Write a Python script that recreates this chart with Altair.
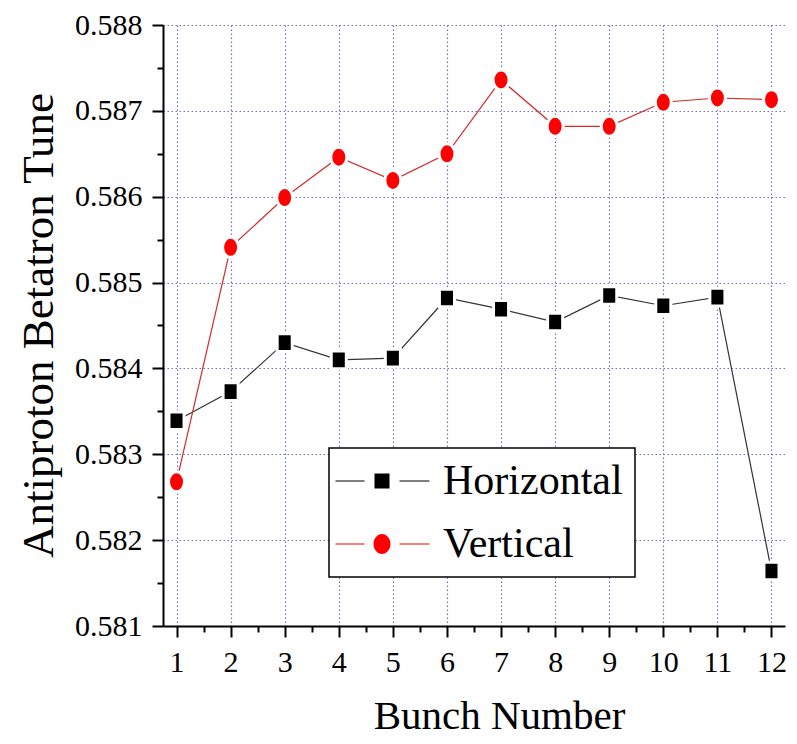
import altair as alt
import pandas as pd

bunch = [1, 2, 3, 4, 5, 6, 7, 8, 9, 10, 11, 12]
horizontal = [0.58339, 0.58373, 0.58430, 0.58410, 0.58412, 0.58482,
              0.58469, 0.58454, 0.58485, 0.58473, 0.58483, 0.58164]
vertical = [0.58268, 0.58541, 0.58599, 0.58646, 0.58619, 0.58650,
            0.58736, 0.58682, 0.58682, 0.58710, 0.58715, 0.58713]
series_names = ["Horizontal", "Vertical"]

x_ticks = [1, 1.5, 2, 2.5, 3, 3.5, 4, 4.5, 5, 5.5, 6, 6.5, 7, 7.5, 8, 8.5,
           9, 9.5, 10, 10.5, 11, 11.5, 12]
y_ticks = [0.581, 0.5815, 0.582, 0.5825, 0.583, 0.5835, 0.584, 0.5845,
           0.585, 0.5855, 0.586, 0.5865, 0.587, 0.5875, 0.588]

rows = []
for b, h, v in zip(bunch, horizontal, vertical):
    rows.append({"bunch": b, "tune": h, "series": "Horizontal"})
    rows.append({"bunch": b, "tune": v, "series": "Vertical"})
df = pd.DataFrame(rows)

FONT = "Liberation Serif"
GRID = "#6f6fbf"

x_major = "datum.value % 1 === 0"
y_major = "abs(datum.value*1000 - round(datum.value*1000)) < 0.01"

x_axis = alt.Axis(
    values=x_ticks,
    labelExpr=f"{x_major} ? format(datum.value, 'd') : ''",
    tickSize={"condition": {"test": x_major, "value": 11}, "value": 6},
    gridOpacity={"condition": {"test": x_major, "value": 1}, "value": 0},
    title="Bunch Number",
    titleX=336, titleY=102, titleAlign="center", titleBaseline="alphabetic",
    titleFontSize=41,
)
y_axis = alt.Axis(
    values=y_ticks,
    labelExpr=f"{y_major} ? format(datum.value, '.3f') : ''",
    tickSize={"condition": {"test": y_major, "value": 11}, "value": 6},
    gridOpacity={"condition": {"test": y_major, "value": 1}, "value": 0},
    title="Antiproton Betatron Tune",
    titleX=-111, titleY=300, titleAlign="center", titleBaseline="alphabetic",
    titleAngle=-90, titleFontSize=45,
)

x_enc = alt.X("bunch:Q", scale=alt.Scale(domain=[0.75, 12.25], nice=False, zero=False), axis=x_axis)
y_enc = alt.Y("tune:Q", scale=alt.Scale(domain=[0.581, 0.588], nice=False, zero=False), axis=y_axis)

base = alt.Chart(df)

lines = base.mark_line(strokeWidth=1.2).encode(
    x=x_enc, y=y_enc,
    color=alt.Color("series:N", scale=alt.Scale(domain=series_names, range=["#333333", "#d42a2a"]), legend=None),
)

marker_paths = [
    "M-0.94,-1.1H0.94V1.1H-0.94Z",
    "M-1,0A1,1.25 0 1,0 1,0A1,1.25 0 1,0 -1,0Z",
]
points = base.mark_point(filled=True, size=256, opacity=1, stroke="white", strokeWidth=3, strokeOpacity=1).encode(
    x=x_enc, y=y_enc,
    shape=alt.Shape("series:N", scale=alt.Scale(domain=series_names, range=marker_paths), legend=None),
    fill=alt.Fill("series:N", scale=alt.Scale(domain=series_names, range=["#000000", "#ff0000"]), legend=None),
)

legend_paths = [
    "M-6.2,-0.08H-2.33V0.08H-6.2Z M-1,-1H1V1H-1Z M2.33,-0.08H6.33V0.08H2.33Z",
    "M-6.2,-0.08H-2.33V0.08H-6.2Z M-1.13,0A1.13,1.33 0 1,0 1.13,0A1.13,1.33 0 1,0 -1.13,0Z M2.33,-0.08H6.33V0.08H2.33Z",
]
legend_kw = dict(
    title=None, orient="none", legendX=166, legendY=423,
    fillColor="white", strokeColor="black", padding=12,
    labelFont=FONT, labelFontSize=42, labelColor="black", labelLimit=0,
    symbolSize=225, symbolOffset=20, labelOffset=40,
    symbolOpacity=1, symbolStrokeWidth=0, rowPadding=21,
)
proxy = base.mark_point(filled=True, opacity=0).encode(
    x=x_enc, y=y_enc,
    shape=alt.Shape("series:N", scale=alt.Scale(domain=series_names, range=legend_paths), legend=alt.Legend(**legend_kw)),
    color=alt.Color("series:N", scale=alt.Scale(domain=series_names, range=["#000000", "#ff0000"]), legend=alt.Legend(**legend_kw)),
)

chart = alt.layer(lines, points, proxy).resolve_scale(
    color="independent", shape="independent", fill="independent"
).properties(
    width=622, height=601,
    autosize=alt.AutoSizeParams(type="none"),
    padding={"left": 155, "top": 17, "right": 4, "bottom": 110},
).configure_view(stroke=None).configure_axis(
    labelFont=FONT, titleFont=FONT, labelFontSize=30, labelColor="black",
    titleColor="black", titleFontWeight="normal",
    domainColor="black", domainWidth=2, tickColor="black", tickWidth=2,
    gridColor=GRID, gridDash=[1.5, 2.5], gridWidth=1.2,
    labelPadding=10, grid=True,
).configure_legend(strokeWidth=1.5)

chart.save("out.html", embed_options={"renderer": "svg", "actions": False})
